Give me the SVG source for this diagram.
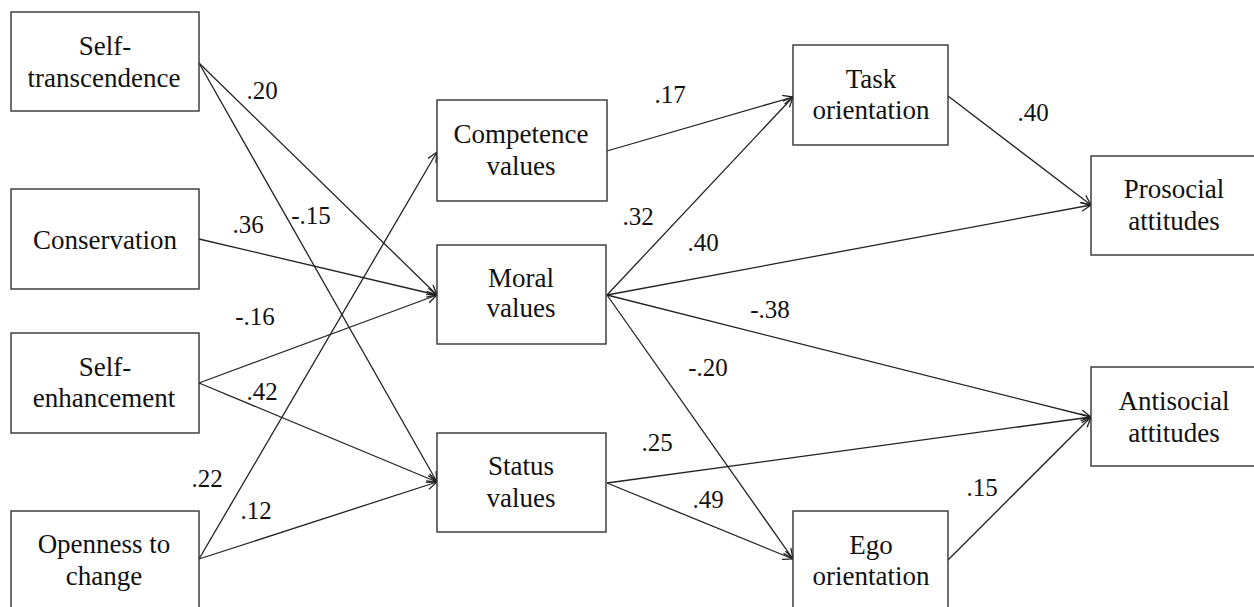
<svg xmlns="http://www.w3.org/2000/svg" width="1254" height="607" viewBox="0 0 1254 607">
<style>
.box{fill:#fff;stroke:#333;stroke-width:1.4}
.t{font-family:"Liberation Serif","Times New Roman",Times,"Noto Serif","DejaVu Serif",FreeSerif,serif;font-size:27px;fill:#111;text-anchor:middle}
.l{font-family:"Liberation Serif","Times New Roman",Times,"Noto Serif","DejaVu Serif",FreeSerif,serif;font-size:25px;fill:#111;text-anchor:middle}
.c line{stroke:#222;stroke-width:1.3;marker-end:url(#ah)}
</style>
<defs>
<marker id="ah" markerUnits="userSpaceOnUse" markerWidth="14" markerHeight="12" refX="11" refY="5" orient="auto" viewBox="0 0 14 12">
<path d="M1,0.5 L11,5 L1,9.5" fill="none" stroke="#222" stroke-width="1.3"/>
</marker>
</defs>
<rect width="1254" height="607" fill="#fff"/>
<g class="c" id="connectors">
<line x1="199" y1="63" x2="437" y2="295"/>
<line x1="199" y1="63" x2="437" y2="482"/>
<line x1="199" y1="239" x2="437" y2="295"/>
<line x1="199" y1="383" x2="437" y2="295"/>
<line x1="199" y1="383" x2="437" y2="482"/>
<line x1="199" y1="559" x2="437" y2="152"/>
<line x1="199" y1="559" x2="437" y2="482"/>
<line x1="607" y1="151" x2="793" y2="97"/>
<line x1="607" y1="295" x2="793" y2="97"/>
<line x1="607" y1="295" x2="1091" y2="205"/>
<line x1="607" y1="295" x2="1091" y2="417"/>
<line x1="607" y1="295" x2="793" y2="559"/>
<line x1="607" y1="483" x2="1091" y2="417"/>
<line x1="607" y1="483" x2="793" y2="559"/>
<line x1="948" y1="96" x2="1091" y2="205"/>
<line x1="948" y1="560" x2="1091" y2="417"/>
</g>
<g id="labels">
<text class="l" x="262" y="99">.20</text>
<text class="l" x="311" y="224">-.15</text>
<text class="l" x="248" y="233">.36</text>
<text class="l" x="255" y="325">-.16</text>
<text class="l" x="262" y="400">.42</text>
<text class="l" x="207" y="487">.22</text>
<text class="l" x="256" y="519">.12</text>
<text class="l" x="670" y="103">.17</text>
<text class="l" x="638" y="225">.32</text>
<text class="l" x="703" y="251">.40</text>
<text class="l" x="770" y="318">-.38</text>
<text class="l" x="708" y="376">-.20</text>
<text class="l" x="657" y="451">.25</text>
<text class="l" x="708" y="508">.49</text>
<text class="l" x="1033" y="121">.40</text>
<text class="l" x="982" y="496">.15</text>
</g>
<g id="self-transcendence"><rect class="box" x="11" y="12" width="188" height="99"/><text class="t" x="105" y="55">Self-</text><text class="t" x="104" y="87">transcendence</text></g>
<g id="conservation"><rect class="box" x="11" y="189" width="188" height="100"/><text class="t" x="105" y="249">Conservation</text></g>
<g id="self-enhancement"><rect class="box" x="11" y="333" width="188" height="100"/><text class="t" x="105" y="376">Self-</text><text class="t" x="104" y="407">enhancement</text></g>
<g id="openness"><rect class="box" x="11" y="511" width="188" height="100"/><text class="t" x="104" y="553">Openness to</text><text class="t" x="104" y="585">change</text></g>
<g id="competence"><rect class="box" x="437" y="100" width="170" height="101"/><text class="t" x="521" y="143">Competence</text><text class="t" x="521" y="175">values</text></g>
<g id="moral"><rect class="box" x="437" y="245" width="169" height="99"/><text class="t" x="521" y="287">Moral</text><text class="t" x="521" y="317">values</text></g>
<g id="status"><rect class="box" x="437" y="433" width="169" height="99"/><text class="t" x="521" y="475">Status</text><text class="t" x="521" y="507">values</text></g>
<g id="task"><rect class="box" x="793" y="45" width="155" height="100"/><text class="t" x="871" y="88">Task</text><text class="t" x="871" y="119">orientation</text></g>
<g id="ego"><rect class="box" x="793" y="511" width="155" height="100"/><text class="t" x="871" y="554">Ego</text><text class="t" x="871" y="585">orientation</text></g>
<g id="prosocial"><rect class="box" x="1091" y="156" width="170" height="99"/><text class="t" x="1174" y="198">Prosocial</text><text class="t" x="1174" y="230">attitudes</text></g>
<g id="antisocial"><rect class="box" x="1091" y="367" width="170" height="99"/><text class="t" x="1174" y="410">Antisocial</text><text class="t" x="1174" y="442">attitudes</text></g>
</svg>
